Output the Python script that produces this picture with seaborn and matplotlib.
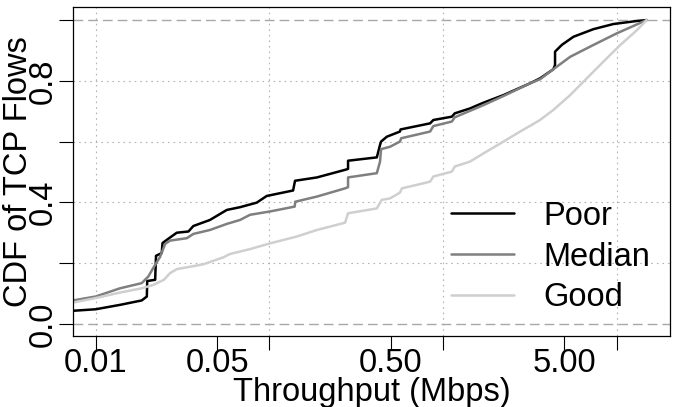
import matplotlib
matplotlib.use("Agg")
import matplotlib.pyplot as plt
import pandas as pd
import seaborn as sns
from matplotlib.ticker import FixedLocator, FixedFormatter, NullLocator

# ---- data ----
poor_x = [0.0074, 0.01, 0.0138, 0.0184, 0.0197, 0.0198, 0.022, 0.02225, 0.024, 0.02426,
          0.0256, 0.0293, 0.0342, 0.0365, 0.0455, 0.0569, 0.0678, 0.0846, 0.0966, 0.137,
          0.1406, 0.188, 0.273, 0.284, 0.284, 0.416, 0.434, 0.44, 0.475, 0.565, 0.57,
          0.843, 0.88, 1.125, 1.17, 1.43, 1.71, 2.23, 3.18, 3.62, 4.32, 4.42, 4.42,
          4.83, 5.64, 7.35, 9.59, 13.1, 14.9]
poor_y = [0.043, 0.048, 0.0625, 0.077, 0.090, 0.141, 0.145, 0.224, 0.233, 0.266,
          0.276, 0.300, 0.304, 0.322, 0.342, 0.375, 0.384, 0.399, 0.421, 0.439,
          0.471, 0.482, 0.507, 0.510, 0.537, 0.548, 0.589, 0.600, 0.616, 0.633, 0.640,
          0.660, 0.671, 0.682, 0.693, 0.709, 0.728, 0.753, 0.792, 0.808, 0.838, 0.852, 0.896,
          0.918, 0.945, 0.970, 0.987, 0.997, 1.0]

median_x = [0.0074, 0.01, 0.0138, 0.0184, 0.0201, 0.0214, 0.0235, 0.0251, 0.0268, 0.0335,
            0.0365, 0.0455, 0.0569, 0.0678, 0.0774, 0.101, 0.14, 0.141, 0.188, 0.273,
            0.284, 0.284, 0.416, 0.434, 0.44, 0.496, 0.565, 0.575, 0.843, 0.88, 1.125,
            1.17, 1.71, 2.23, 3.18, 3.62, 4.32, 5.40, 7.35, 10.0, 14.9]
median_y = [0.077, 0.090, 0.117, 0.134, 0.156, 0.183, 0.221, 0.263, 0.274, 0.282,
            0.296, 0.309, 0.329, 0.342, 0.359, 0.370, 0.386, 0.402, 0.419, 0.446,
            0.450, 0.482, 0.496, 0.534, 0.575, 0.583, 0.600, 0.611, 0.633, 0.651, 0.666,
            0.680, 0.720, 0.750, 0.792, 0.805, 0.838, 0.879, 0.918, 0.956, 1.0]

good_x = [0.0074, 0.01, 0.0138, 0.0184, 0.0214, 0.0247, 0.0268, 0.0293, 0.0417, 0.0543,
          0.0594, 0.0774, 0.101, 0.143, 0.188, 0.273, 0.284, 0.416, 0.444, 0.496,
          0.565, 0.58, 0.843, 0.88, 1.125, 1.17, 1.43, 1.71, 2.23, 2.78, 3.18, 3.62,
          4.32, 5.40, 6.73, 8.39, 10.5, 13.1, 14.9]
good_y = [0.070, 0.085, 0.103, 0.117, 0.128, 0.145, 0.167, 0.180, 0.196, 0.219,
          0.230, 0.246, 0.265, 0.287, 0.309, 0.333, 0.364, 0.380, 0.408, 0.413,
          0.432, 0.446, 0.468, 0.485, 0.501, 0.518, 0.534, 0.561, 0.600, 0.633, 0.652, 0.671,
          0.704, 0.753, 0.808, 0.863, 0.918, 0.967, 1.0]

series_names = ["Poor", "Median", "Good"]
series_colors = ["#000000", "#7f7f7f", "#cfcfcf"]

x_ticks = [0.01, 0.05, 0.1, 0.5, 1, 5, 10]
x_tick_labels = ["0.01", "0.05", "", "0.50", "", "5.00", ""]
y_ticks = [0.0, 0.2, 0.4, 0.6, 0.8, 1.0]
y_tick_labels = ["0.0", "", "0.4", "", "0.8", ""]
x_grid = [0.01, 0.1, 1, 10]
y_grid = [0.2, 0.4, 0.6, 0.8]
y_dashed = [0.0, 1.0]

x_label = "Throughput (Mbps)"
y_label = "CDF of TCP Flows"

# ---- build table ----
frames = []
for name, xs, ys in zip(series_names, [poor_x, median_x, good_x], [poor_y, median_y, good_y]):
    frames.append(pd.DataFrame({"x": xs, "y": ys, "group": name}))
df = pd.concat(frames, ignore_index=True)

# ---- style ----
sns.set_theme(style="ticks")
FS = 23.5
plt.rcParams["font.family"] = ["Liberation Sans", "DejaVu Sans"]
plt.rcParams["font.size"] = FS
plt.rcParams["text.color"] = "black"
plt.rcParams["legend.labelcolor"] = "black"

fig = plt.figure(figsize=(6.76, 4.07), dpi=100)
ax = fig.add_axes([73 / 676, 71 / 407, 597 / 676, 329 / 407])
ax.set_xscale("log")

for v in x_grid:
    ax.axvline(v, color="#b4b4b4", lw=0.8, ls=(0, (1.5, 3.5)), zorder=0)
for v in y_grid:
    ax.axhline(v, color="#b4b4b4", lw=0.8, ls=(0, (1.5, 3.5)), zorder=0)
for v in y_dashed:
    ax.axhline(v, color="#a8a8a8", lw=1.0, ls=(0, (7, 3.6)), zorder=0)

sns.lineplot(data=df, x="x", y="y", hue="group", hue_order=series_names,
             palette=series_colors, sort=False, estimator=None, lw=1.8, ax=ax,
             legend=True)

ax.set_xlim(0.0074, 20.3)
ax.set_ylim(-0.04, 1.043)

ax.xaxis.set_major_locator(FixedLocator(x_ticks))
ax.xaxis.set_major_formatter(FixedFormatter(x_tick_labels))
ax.xaxis.set_minor_locator(NullLocator())
ax.yaxis.set_major_locator(FixedLocator(y_ticks))
ax.yaxis.set_major_formatter(FixedFormatter(y_tick_labels))

for s in ax.spines.values():
    s.set_visible(True)
    s.set_color("black")
    s.set_linewidth(0.9)

ax.tick_params(axis="both", which="major", direction="out", length=10, width=0.8,
               color="black", labelcolor="black", labelsize=FS)
ax.tick_params(axis="x", pad=-1.5)
ax.tick_params(axis="y", pad=0)
for lab in ax.get_yticklabels():
    lab.set_rotation(90)
    lab.set_va("center")
    lab.set_ha("right")

ax.set_xlabel(x_label, fontsize=FS, color="black")
ax.set_ylabel(y_label, fontsize=FS, color="black")
ax.xaxis.set_label_coords(0.5, -0.124)
ax.yaxis.set_label_coords(-0.065, 0.5)

sns.move_legend(ax, "upper left", bbox_to_anchor=(0.634, 0.411), title=None,
                frameon=False, handlelength=1.9, handletextpad=0.9,
                labelspacing=0.3, borderpad=0, borderaxespad=0, fontsize=FS)
for t in ax.get_legend().get_texts():
    t.set_color("black")

fig.savefig("out.png", dpi=100)
